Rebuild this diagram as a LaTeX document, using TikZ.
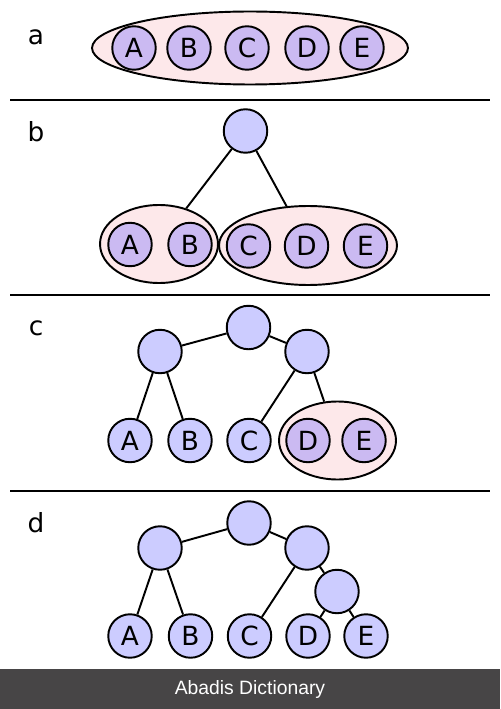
\documentclass[tikz,border=0pt]{standalone}
\usepackage{fontspec}
\setmainfont{DejaVu Sans}
\newfontfamily\bannerfont{Liberation Sans}
\usetikzlibrary{shapes.geometric}
\definecolor{leaf}{HTML}{CCCCFF}
\definecolor{grpleaf}{HTML}{CBBAF2}
\definecolor{grp}{HTML}{FDE8EA}
\definecolor{banner}{HTML}{474546}

\begin{document}
\begin{tikzpicture}[x=0.02cm, y=-0.02cm, line width=1.1pt,
    font=\fontsize{15}{17}\selectfont,
    nd/.style={draw, circle, fill=leaf, minimum size=0.87cm, inner sep=0pt},
    gnd/.style={nd, fill=grpleaf},
    grpbox/.style={draw, ellipse, fill=grp, inner sep=0pt}]
  \useasboundingbox (0,0) rectangle (500,709);
  \fill[white] (0,0) rectangle (500,709);
  % separators
  \draw (10,100) -- (490,100);
  \draw (10,295) -- (490,295);
  \draw (10,491) -- (490,491);
  % panel a
  \node (la) at (36,37) {a};
  \node[grpbox, minimum width=6.32cm, minimum height=1.46cm] (ga) at (250,48) {};
  \node[gnd] (aA) at (134,48) {A};
  \node[gnd] (aB) at (189,48) {B};
  \node[gnd] (aC) at (247,48) {C};
  \node[gnd] (aD) at (307,48) {D};
  \node[gnd] (aE) at (362,48) {E};
  % panel b
  \node (lb) at (36,132) {b};
  \node[nd] (bR) at (245.5,131) {};
  \node[grpbox, minimum width=2.36cm, minimum height=1.56cm] (gb1) at (159,244) {};
  \node[grpbox, minimum width=3.56cm, minimum height=1.58cm] (gb2) at (308,245.5) {};
  \node[gnd] (bA) at (130,244.5) {A};
  \node[gnd] (bB) at (190,244.5) {B};
  \node[gnd] (bC) at (248.5,246) {C};
  \node[gnd] (bD) at (306.5,246) {D};
  \node[gnd] (bE) at (365.5,246) {E};
  \draw (bR) -- (gb1);
  \draw (bR) -- (gb2);
  % panel c
  \node (lc) at (36,328) {c};
  \node[nd] (cR) at (248.5,327.5) {};
  \node[nd] (cL) at (160,351.5) {};
  \node[nd] (cN) at (307,351.5) {};
  \node[grpbox, minimum width=2.34cm, minimum height=1.56cm] (gc) at (337.5,440.5) {};
  \node[nd] (cA) at (130,440.5) {A};
  \node[nd] (cB) at (190,440.5) {B};
  \node[nd] (cC) at (249,440.5) {C};
  \node[gnd] (cD) at (308,440.5) {D};
  \node[gnd] (cE) at (364,440.5) {E};
  \draw (cR) -- (cL);
  \draw (cR) -- (cN);
  \draw (cL) -- (cA);
  \draw (cL) -- (cB);
  \draw (cN) -- (cC);
  \draw (cN) -- (gc);
  % panel d
  \node (ld) at (36,523) {d};
  \node[nd] (dR) at (249,523) {};
  \node[nd] (dL) at (160,548) {};
  \node[nd] (dN) at (307,548) {};
  \node[nd] (dS) at (337,591.5) {};
  \node[nd] (dA) at (130,636) {A};
  \node[nd] (dB) at (190.5,636) {B};
  \node[nd] (dC) at (249.5,636) {C};
  \node[nd] (dD) at (308,636) {D};
  \node[nd] (dE) at (366,636) {E};
  \draw (dR) -- (dL);
  \draw (dR) -- (dN);
  \draw (dL) -- (dA);
  \draw (dL) -- (dB);
  \draw (dN) -- (dC);
  \draw (dN) -- (dS);
  \draw (dS) -- (dD);
  \draw (dS) -- (dE);
  % banner
  \fill[banner] (0,669) rectangle (500,709);
  \node[white, font=\bannerfont\fontsize{11}{13}\selectfont] (bn) at (250,689) {Abadis Dictionary};
\end{tikzpicture}
\end{document}
